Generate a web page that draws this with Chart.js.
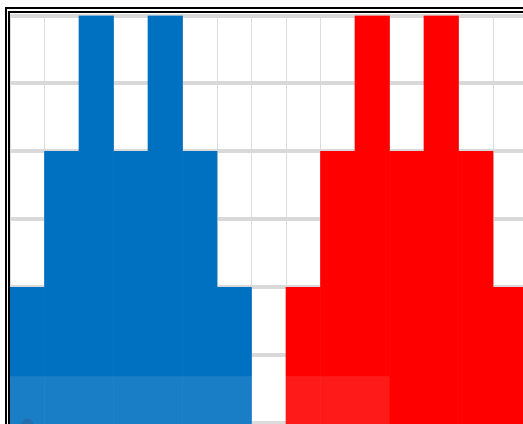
<!DOCTYPE html>
<html><head><meta charset="utf-8">
<script src="https://cdn.jsdelivr.net/npm/chart.js@4/dist/chart.umd.min.js"></script>
<style>
html,body{margin:0;padding:0;background:#fff;overflow:hidden;width:523px;height:424px;}
#frame{position:absolute;left:5px;top:7px;width:600px;height:600px;border-left:5px double #000;border-top:6px double #000;box-sizing:border-box;}
#c{position:absolute;left:0;top:0;}
</style></head><body>
<div id="frame"></div>
<canvas id="c" width="534" height="500"></canvas>
<script>
const categories = ['1','2','3','4','5','6','7','8','9','10','11','12','13','14','15'];
const blueValues = [3,5,7,5,7,5,3,null,null,null,null,null,null,null,null];
const redValues  = [null,null,null,null,null,null,null,null,3,5,7,5,7,5,3];
const markerValues = [0.98,null,null,null,null,null,null,null,null,null,null,null,null,null,null];
const yMin = 0, yMax = 7, yStep = 1;
const overlayFrom = 0, overlayTo = 10, overlayLevel = 1.69;

const overlayPlugin = {
  id: 'overlay',
  afterDatasetsDraw(chart) {
    const x = chart.scales.x, y = chart.scales.y, ctx = chart.ctx;
    const half = (x.right - x.left) / categories.length / 2;
    const left = x.getPixelForValue(overlayFrom) - half;
    const right = x.getPixelForValue(overlayTo) + half;
    const top = y.getPixelForValue(overlayLevel);
    ctx.save();
    ctx.fillStyle = 'rgba(255,255,255,0.1)';
    ctx.fillRect(left, top, right - left, chart.height - top);
    ctx.restore();
  }
};

new Chart(document.getElementById('c'), {
  type: 'bar',
  data: {
    labels: categories,
    datasets: [
      { type: 'line', data: markerValues, showLine: false, pointRadius: 5.5, pointHoverRadius: 5.5,
        backgroundColor: '#0a5ea6', borderColor: '#0a5ea6',
        pointBackgroundColor: '#0a5ea6', pointBorderColor: '#0a5ea6', pointBorderWidth: 1, order: -1,
        clip: false },
      { data: blueValues, backgroundColor: '#0070c0', grouped: false, barPercentage: 1, categoryPercentage: 1, borderWidth: 0, order: 1 },
      { data: redValues, backgroundColor: '#ff0000', grouped: false, barPercentage: 1, categoryPercentage: 1, borderWidth: 0, order: 1 }
    ]
  },
  options: {
    responsive: false,
    animation: false,
    devicePixelRatio: 1,
    layout: { padding: { left: 10, top: 15.5, right: 3.2, bottom: 9 } },
    plugins: { legend: { display: false }, tooltip: { enabled: false } },
    scales: {
      x: { grid: { color: '#dcdcdc', lineWidth: 1, drawTicks: false, offset: true },
           ticks: { display: false }, border: { display: false } },
      y: { min: yMin, max: yMax, ticks: { display: false, stepSize: yStep },
           grid: { color: '#d9d9d9', lineWidth: 4, drawTicks: false }, border: { display: false } }
    }
  },
  plugins: [overlayPlugin]
});
</script>
</body></html>
